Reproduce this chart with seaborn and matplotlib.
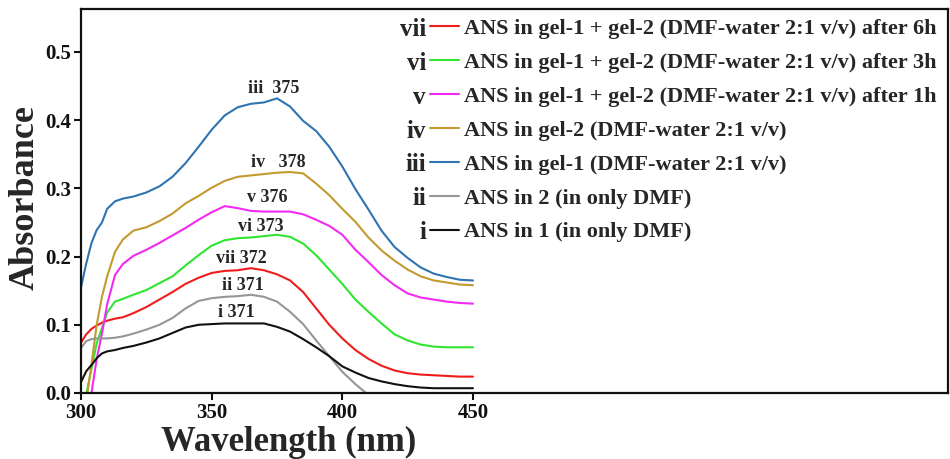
import numpy as np
import pandas as pd
import matplotlib
matplotlib.use("Agg")
import matplotlib.pyplot as plt
from matplotlib.lines import Line2D
import seaborn as sns

# Absorbance spectra
WAVELENGTH = [300, 302, 304, 306, 308, 310, 313, 316, 320, 325, 330, 335, 340, 345,
              350, 355, 360, 365, 370, 375, 380, 385, 390, 395, 400, 405, 410, 415,
              420, 425, 430, 435, 440, 445, 450]

ABS_I = [0.016, 0.032, 0.041, 0.051, 0.058, 0.061, 0.063, 0.066, 0.069, 0.074, 0.080, 0.088,
         0.096, 0.100, 0.101, 0.102, 0.102, 0.102, 0.102, 0.097, 0.090, 0.079, 0.067, 0.054,
         0.039, 0.030, 0.022, 0.017, 0.013, 0.010, 0.008, 0.007, 0.007, 0.007, 0.007]
ABS_II = [0.066, 0.076, 0.079, 0.080, 0.080, 0.080, 0.081, 0.083, 0.087, 0.093, 0.100, 0.110,
          0.124, 0.135, 0.139, 0.141, 0.142, 0.144, 0.141, 0.134, 0.119, 0.101, 0.077, 0.054,
          0.031, 0.013, -0.003, -0.018, -0.030, np.nan, np.nan, np.nan, np.nan, np.nan, np.nan]
ABS_III = [0.155, 0.190, 0.220, 0.239, 0.250, 0.270, 0.281, 0.285, 0.288, 0.294, 0.303, 0.317,
           0.337, 0.361, 0.386, 0.407, 0.419, 0.424, 0.426, 0.432, 0.420, 0.399, 0.384, 0.361,
           0.332, 0.299, 0.269, 0.238, 0.214, 0.198, 0.184, 0.175, 0.170, 0.166, 0.165]
ABS_IV = [-0.060, -0.012, 0.042, 0.100, 0.141, 0.171, 0.207, 0.225, 0.238, 0.243, 0.252, 0.263,
          0.278, 0.289, 0.301, 0.311, 0.317, 0.319, 0.321, 0.323, 0.324, 0.322, 0.307, 0.290,
          0.270, 0.251, 0.228, 0.209, 0.194, 0.181, 0.171, 0.165, 0.162, 0.159, 0.158]
ABS_V = [-0.120, -0.050, 0.000, 0.050, 0.087, 0.130, 0.173, 0.189, 0.201, 0.210, 0.220, 0.231,
         0.242, 0.254, 0.265, 0.274, 0.271, 0.267, 0.266, 0.266, 0.266, 0.262, 0.254, 0.245,
         0.232, 0.210, 0.192, 0.173, 0.158, 0.146, 0.140, 0.137, 0.134, 0.132, 0.131]
ABS_VI = [-0.080, -0.002, 0.035, 0.073, 0.095, 0.118, 0.134, 0.138, 0.144, 0.151, 0.161, 0.171,
          0.187, 0.202, 0.216, 0.224, 0.227, 0.228, 0.230, 0.232, 0.229, 0.219, 0.202, 0.181,
          0.160, 0.137, 0.119, 0.102, 0.086, 0.077, 0.071, 0.068, 0.067, 0.067, 0.067]
ABS_VII = [0.074, 0.086, 0.094, 0.099, 0.103, 0.106, 0.109, 0.111, 0.117, 0.126, 0.137, 0.148,
           0.160, 0.169, 0.176, 0.179, 0.180, 0.183, 0.180, 0.174, 0.165, 0.148, 0.124, 0.100,
           0.080, 0.063, 0.050, 0.040, 0.033, 0.029, 0.027, 0.026, 0.025, 0.024, 0.024]

NUMERALS = ["vii", "vi", "v", "iv", "iii", "ii", "i"]
LABELS = [
    "ANS in gel-1 + gel-2 (DMF-water 2:1 v/v) after 6h",
    "ANS in gel-1 + gel-2 (DMF-water 2:1 v/v) after 3h",
    "ANS in gel-1 + gel-2 (DMF-water 2:1 v/v) after 1h",
    "ANS in gel-2 (DMF-water 2:1 v/v)",
    "ANS in gel-1 (DMF-water 2:1 v/v)",
    "ANS in 2 (in only DMF)",
    "ANS in 1 (in only DMF)",
]
SERIES = [ABS_VII, ABS_VI, ABS_V, ABS_IV, ABS_III, ABS_II, ABS_I]
COLORS = ["#f01c1c", "#2fe52f", "#f22af2", "#c49a2e", "#2f74b0", "#969696", "#111111"]

# peak labels (text, wavelength, absorbance)
PEAK_TEXT = ["iii  375", "iv   378", "v 376", "vi 373", "vii 372", "ii 371", "i 371"]
PEAK_X = [373.6, 375.4, 371.4, 368.9, 361.2, 362.0, 359.4]
PEAK_Y = [0.447, 0.338, 0.286, 0.244, 0.197, 0.157, 0.118]

# long form table for seaborn
frames = []
for label, values in zip(LABELS, SERIES):
    frames.append(pd.DataFrame({"wavelength": WAVELENGTH, "absorbance": values, "sample": label}))
df = pd.concat(frames, ignore_index=True)

sns.set_style("ticks")
plt.rcParams["font.family"] = ["Liberation Serif", "DejaVu Serif"]
plt.rcParams["font.weight"] = "bold"
plt.rcParams["axes.labelweight"] = "bold"
plt.rcParams["axes.linewidth"] = 1.6

fig = plt.figure(figsize=(9.5, 4.59), dpi=100)
ax = fig.add_axes([0.0853, 0.1438, 0.9126, 0.8366])

sns.lineplot(data=df, x="wavelength", y="absorbance", hue="sample", hue_order=LABELS,
             palette=COLORS, linewidth=1.5, estimator=None, legend=False, ax=ax)

ax.set_xlim(300, 631.8)
ax.set_ylim(0, 0.563)
ax.set_xticks([300, 350, 400, 450])
ax.set_yticks([0.0, 0.1, 0.2, 0.3, 0.4, 0.5])
ax.set_yticklabels([f"{v:.1f}" for v in [0.0, 0.1, 0.2, 0.3, 0.4, 0.5]])
ax.tick_params(direction="out", length=5, width=1.5, labelsize=15, pad=2, colors="#111111")
for spine in ax.spines.values():
    spine.set_color("#111111")

ax.set_xlabel("Wavelength (nm)", fontsize=25)
ax.set_ylabel("Absorbance", fontsize=26)
ax.xaxis.set_label_coords(0.239, -0.086)
ax.yaxis.set_label_coords(-0.046, 0.51)

for txt, x, y in zip(PEAK_TEXT, PEAK_X, PEAK_Y):
    ax.text(x, y, txt, ha="center", va="center", fontsize=13, fontweight="bold")

handles = [Line2D([], [], color=c, linewidth=1.5) for c in COLORS]
leg = ax.legend(handles, LABELS, loc="upper left", bbox_to_anchor=(0.4025, 0.975),
                frameon=False, borderpad=0, borderaxespad=0, handlelength=1.3,
                handletextpad=0.25, labelspacing=0.6, prop={"size": 16, "weight": "bold"})

# roman numerals in front of the legend handles, sitting on the text baseline
fig.canvas.draw()
renderer = fig.canvas.get_renderer()
for line, num in zip(leg.get_lines(), NUMERALS):
    bb = line.get_window_extent(renderer)
    fx, fy = fig.transFigure.inverted().transform((bb.x0 - 4, (bb.y0 + bb.y1) / 2 - 3))
    fig.text(fx, fy, num, ha="right", va="center", fontsize=18, fontweight="bold")

fig.savefig("out.png", dpi=100)
